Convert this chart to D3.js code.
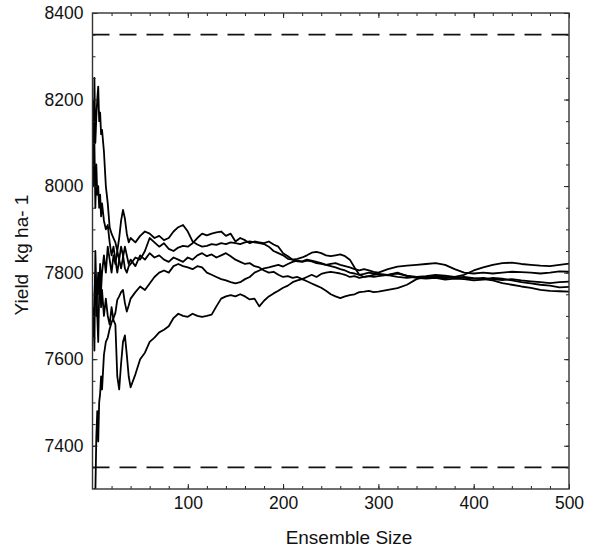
<!DOCTYPE html>
<html>
<head>
<meta charset="utf-8">
<script src="https://cdn.jsdelivr.net/npm/d3@7/dist/d3.min.js"></script>
<style>
  html, body { margin: 0; padding: 0; background: #fff; }
  svg text { font-family: "Liberation Sans", Arial, Helvetica, sans-serif; fill: #111; }
</style>
</head>
<body>
<svg id="chart" width="599" height="551"></svg>
<script>
// Ensemble sizes at which the running mean yield is recorded
const ensembleSize = [
  1,2,3,4,5,6,7,8,9,10,
  12,14,16,18,20,22,24,26,28,30,32,34,36,38,40,
  45,50,55,60,65,70,75,80,85,90,95,100,105,110,115,120,125,130,135,140,145,150,
  155,160,165,170,175,180,185,190,195,200,205,210,215,220,225,230,235,240,245,250,
  255,260,265,270,275,280,285,290,295,300,
  310,320,330,340,350,360,370,380,390,400,410,420,430,440,450,460,470,480,490,500
];

// Running-mean yield (kg ha-1) for five ensemble draws
const runA = [
  8000,8250,8100,8160,8200,8230,8150,8170,8120,8130,
  8080,8000,7960,7905,7890,7880,7870,7850,7880,7920,7945,7925,7890,7870,7880,
  7870,7885,7895,7890,7880,7885,7875,7880,7895,7905,7910,7895,7872,7865,7860,7862,7866,7864,7868,7866,7870,7868,
  7866,7870,7872,7870,7868,7866,7860,7850,7845,7840,7832,7830,7832,7835,7840,7846,7848,7845,7840,7838,
  7840,7842,7838,7830,7812,7795,7790,7792,7790,7792,
  7795,7800,7792,7788,7786,7788,7784,7786,7785,7782,7784,7788,7786,7782,7778,7775,7772,7770,7766,7767
];
const runB = [
  8200,8100,7950,8050,7980,8000,7950,7980,7930,7960,
  7920,7900,7910,7870,7840,7860,7830,7800,7830,7860,7840,7810,7800,7815,7820,
  7835,7830,7850,7880,7870,7860,7868,7855,7850,7858,7862,7860,7868,7880,7890,7886,7890,7893,7895,7885,7890,7872,
  7880,7875,7868,7872,7870,7868,7872,7865,7860,7845,7838,7830,7826,7825,7828,7826,7822,7820,7818,7820,
  7822,7818,7815,7812,7808,7805,7808,7805,7802,7800,
  7808,7814,7816,7818,7820,7822,7818,7808,7800,7798,7800,7798,7800,7802,7801,7800,7798,7800,7803,7802
];
const runC = [
  7280,7300,7290,7420,7480,7410,7500,7520,7560,7530,
  7610,7640,7650,7670,7685,7695,7707,7737,7745,7755,7760,7730,7710,7724,7740,
  7755,7768,7760,7775,7790,7800,7805,7800,7815,7820,7815,7812,7808,7815,7812,7800,7795,7790,7785,7782,7778,7775,
  7778,7785,7790,7800,7805,7810,7812,7815,7818,7814,7820,7825,7828,7826,7830,7828,7825,7822,7818,7815,
  7812,7808,7805,7800,7798,7795,7797,7800,7798,7796,
  7794,7790,7788,7790,7792,7795,7793,7790,7795,7805,7812,7818,7822,7823,7820,7818,7816,7815,7818,7821
];
const runD = [
  7720,7620,7850,7760,7700,7640,7750,7820,7760,7800,
  7840,7800,7860,7830,7800,7840,7820,7850,7830,7810,7835,7860,7840,7820,7830,
  7815,7840,7830,7845,7835,7840,7830,7825,7835,7830,7825,7835,7830,7840,7845,7838,7842,7835,7840,7845,7838,7830,
  7825,7820,7822,7815,7812,7805,7800,7802,7795,7790,7792,7788,7790,7785,7780,7775,7770,7765,7758,7750,
  7745,7741,7745,7748,7750,7755,7756,7758,7755,7756,
  7760,7764,7772,7785,7790,7792,7790,7788,7790,7787,7785,7782,7776,7772,7768,7765,7760,7758,7757,7756
];
const runE = [
  7650,7750,7800,7700,7760,7800,7750,7780,7720,7760,
  7700,7740,7700,7680,7720,7690,7680,7560,7530,7590,7640,7655,7610,7560,7535,
  7565,7600,7615,7640,7650,7662,7668,7676,7695,7705,7700,7698,7705,7700,7698,7700,7703,7722,7740,7745,7748,7745,
  7750,7745,7738,7740,7722,7735,7745,7752,7758,7765,7770,7778,7782,7785,7790,7795,7790,7797,7800,7802,
  7800,7798,7795,7790,7792,7788,7790,7792,7795,7797,
  7795,7798,7793,7790,7788,7790,7787,7790,7788,7786,7788,7785,7783,7785,7782,7780,7778,7776,7778,7779
];
const runs = [runA, runB, runC, runD, runE];

// Reference bounds drawn as dashed horizontal lines
const boundValues = [8350, 7350];

// Axis ticks
const xTickValues = [100, 200, 300, 400, 500];
const xMinorTicks = d3.range(20, 500, 20);
const yTickValues = [7400, 7600, 7800, 8000, 8200, 8400];
const yMinorTicks = d3.range(7350, 8400, 50);

const svg = d3.select("#chart");
const margin = { left: 92.5, right: 30, top: 13, bottom: 62 };
const W = 599, H = 551;

const x = d3.scaleLinear().domain([0, 500]).range([margin.left, W - margin.right]);
const y = d3.scaleLinear().domain([7300, 8400]).range([H - margin.bottom, margin.top]);

svg.append("defs").append("clipPath").attr("id", "plotClip")
  .append("rect")
  .attr("x", x(0)).attr("y", y(8400))
  .attr("width", x(500) - x(0)).attr("height", y(7300) - y(8400));

// Dashed bounds
svg.append("g").selectAll("line").data(boundValues).join("line")
  .attr("x1", x(0)).attr("x2", x(500))
  .attr("y1", d => y(d)).attr("y2", d => y(d))
  .attr("stroke", "#111").attr("stroke-width", 1.6)
  .attr("stroke-dasharray", "17,10");

// Running-mean lines
const line = d3.line()
  .x((d, i) => x(ensembleSize[i]))
  .y(d => y(d));

svg.append("g").attr("clip-path", "url(#plotClip)")
  .selectAll("path").data(runs).join("path")
  .attr("d", line)
  .attr("fill", "none")
  .attr("stroke", "#000")
  .attr("stroke-width", 1.8)
  .attr("stroke-linejoin", "round");

// Axes: inward ticks on all four sides
function styleAxis(g) {
  g.select(".domain").remove();
  g.selectAll(".tick line").attr("stroke", "#222").attr("stroke-width", 1);
  g.selectAll(".tick text").style("font-size", "17.5px").attr("fill", "#111");
}

svg.append("g").attr("transform", `translate(0,${y(7300)})`)
  .call(d3.axisBottom(x).tickValues(xTickValues).tickSize(-5).tickPadding(8).tickFormat(d3.format("d")))
  .call(styleAxis);
svg.append("g").attr("transform", `translate(0,${y(7300)})`)
  .call(d3.axisBottom(x).tickValues(xMinorTicks).tickSize(-3).tickFormat(""))
  .call(styleAxis);
svg.append("g").attr("transform", `translate(0,${y(8400)})`)
  .call(d3.axisTop(x).tickValues(xTickValues).tickSize(-5).tickFormat(""))
  .call(styleAxis);
svg.append("g").attr("transform", `translate(0,${y(8400)})`)
  .call(d3.axisTop(x).tickValues(xMinorTicks).tickSize(-3).tickFormat(""))
  .call(styleAxis);

svg.append("g").attr("transform", `translate(${x(0)},0)`)
  .call(d3.axisLeft(y).tickValues(yTickValues).tickSize(-5).tickPadding(9).tickFormat(d3.format("d")))
  .call(styleAxis);
svg.append("g").attr("transform", `translate(${x(0)},0)`)
  .call(d3.axisLeft(y).tickValues(yMinorTicks).tickSize(-3).tickFormat(""))
  .call(styleAxis);
svg.append("g").attr("transform", `translate(${x(500)},0)`)
  .call(d3.axisRight(y).tickValues(yTickValues).tickSize(-5).tickFormat(""))
  .call(styleAxis);
svg.append("g").attr("transform", `translate(${x(500)},0)`)
  .call(d3.axisRight(y).tickValues(yMinorTicks).tickSize(-3).tickFormat(""))
  .call(styleAxis);

// Frame
svg.append("rect")
  .attr("x", x(0)).attr("y", y(8400))
  .attr("width", x(500) - x(0)).attr("height", y(7300) - y(8400))
  .attr("fill", "none").attr("stroke", "#333").attr("stroke-width", 1.4);

// Axis titles
svg.append("text")
  .attr("x", 349).attr("y", 544)
  .attr("text-anchor", "middle")
  .style("font-size", "19px")
  .text("Ensemble Size");

svg.append("text")
  .attr("transform", "translate(28,255) rotate(-90)")
  .attr("text-anchor", "middle")
  .style("font-size", "19px")
  .style("white-space", "pre")
  .text("Yield  kg ha- 1");
</script>
</body>
</html>
